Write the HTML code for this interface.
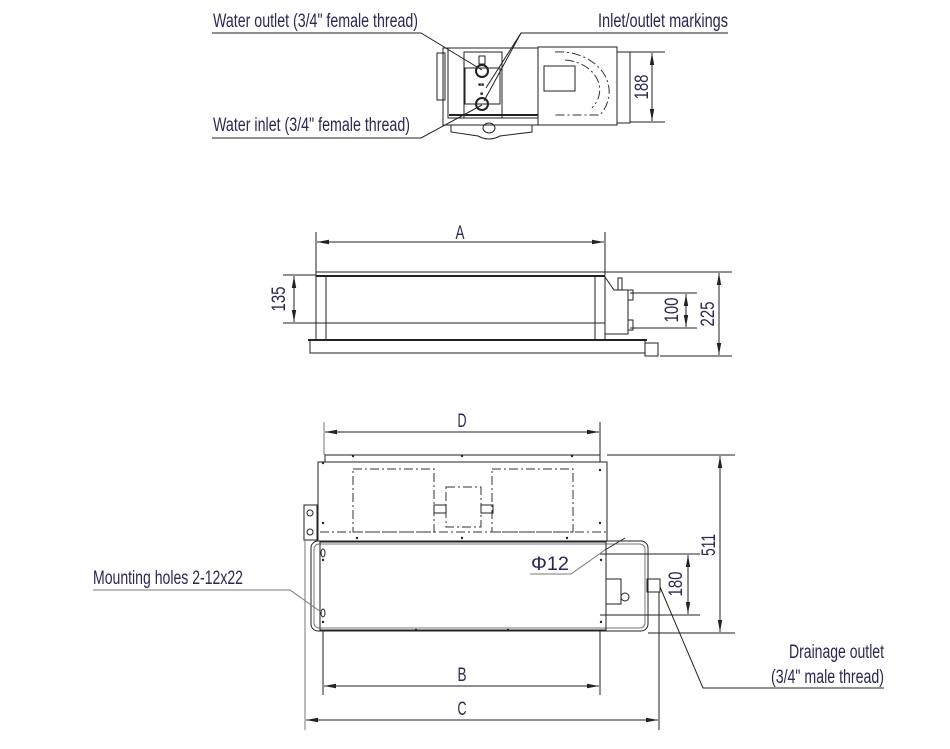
<!DOCTYPE html>
<html><head><meta charset="utf-8"><style>
html,body{margin:0;padding:0;background:#fff;width:950px;height:749px;overflow:hidden}
svg{display:block}
text{font-family:"Liberation Sans Narrow","Liberation Sans",sans-serif;fill:#2a2850;font-size:19px}
.l{stroke:#222;fill:none;stroke-width:1}
.t{stroke:#222;fill:none;stroke-width:2}
.g{stroke:#777;fill:none;stroke-width:1}
.dd{stroke:#333;fill:none;stroke-width:1;stroke-dasharray:9,3,2,3}
</style></head><body>
<svg width="950" height="749" viewBox="0 0 950 749" xmlns="http://www.w3.org/2000/svg">
<defs>
<marker id="a" markerWidth="12" markerHeight="6" refX="12" refY="3" orient="auto-start-reverse" markerUnits="userSpaceOnUse"><path d="M0,0.8 L12,3 L0,5.2z" fill="#222"/></marker>
</defs>

<!-- ===== TOP VIEW ===== -->
<g>
<rect x="443" y="48" width="95" height="77" class="l"/>
<rect x="448" y="48" width="90" height="70" class="l"/>
<rect x="437" y="53" width="8" height="47" class="l"/>
<rect x="464" y="52" width="38" height="66" class="l"/>
<rect x="465" y="68" width="35" height="36" class="l"/>
<circle cx="482" cy="71" r="6" class="t"/>
<circle cx="482" cy="104" r="6" class="t"/>
<rect x="479" y="56" width="6" height="8" class="l"/>
<text x="478" y="86" style="font-size:5px;fill:#222">■■</text>
<text x="480" y="95" style="font-size:5px;fill:#222">■</text>
<line x1="449" y1="115" x2="538" y2="115" class="t"/>
<path d="M451,125 L451,132 L478,136 Q489,142 500,136 L532,132 L532,125" class="l"/>
<ellipse cx="489" cy="128" rx="6" ry="5" class="l"/>
<rect x="538" y="47" width="79" height="78" class="l"/>
<rect x="544" y="66" width="31" height="25" class="l"/>
<path d="M555,52 A50,40 0 0 1 600,115 L555,115" class="dd"/>
<path d="M565,60 A38,30 0 0 1 592,108" class="dd"/>
<rect x="617" y="52" width="13" height="71" class="l"/>
<line x1="630" y1="52" x2="665" y2="52" class="l"/>
<line x1="630" y1="122" x2="665" y2="122" class="l"/>
<line x1="652" y1="53" x2="652" y2="121" class="l" marker-start="url(#a)" marker-end="url(#a)"/>
<text transform="translate(648,87) rotate(-90)" text-anchor="middle" textLength="25" lengthAdjust="spacingAndGlyphs">188</text>
</g>
<!-- top labels -->
<text x="213" y="27" textLength="205" lengthAdjust="spacingAndGlyphs">Water outlet (3/4" female thread)</text>
<polyline points="212,33 421,33 482,70" class="l"/>
<text x="598" y="27" textLength="130" lengthAdjust="spacingAndGlyphs">Inlet/outlet markings</text>
<polyline points="728,33 521,33 486,88" class="l"/>
<line x1="521" y1="33" x2="484" y2="101" class="l"/>
<text x="213" y="131" textLength="197" lengthAdjust="spacingAndGlyphs">Water inlet (3/4" female thread)</text>
<polyline points="212,138 421,138 482,105" class="l"/>

<!-- ===== FRONT VIEW ===== -->
<line x1="316" y1="232" x2="316" y2="275" class="l"/>
<line x1="605" y1="232" x2="605" y2="275" class="l"/>
<line x1="317" y1="242" x2="604" y2="242" class="l" marker-start="url(#a)" marker-end="url(#a)"/>
<text x="460" y="239" text-anchor="middle" textLength="9" lengthAdjust="spacingAndGlyphs">A</text>
<line x1="316" y1="272" x2="605" y2="272" class="l"/>
<line x1="316" y1="276" x2="605" y2="276" class="t"/>
<rect x="316" y="276" width="289" height="47" class="l"/>
<line x1="326" y1="276" x2="326" y2="323" class="l"/>
<line x1="595" y1="276" x2="595" y2="323" class="l"/>
<rect x="316" y="323" width="10" height="17" class="l"/>
<rect x="595" y="323" width="10" height="17" class="l"/>
<line x1="308" y1="340" x2="647" y2="340" class="t"/>
<path d="M310,341 L310,353 L645,353 L645,341" class="l"/>
<rect x="645" y="343" width="13" height="13" class="l"/>
<path d="M605,277 L614,290 L628,290 L628,334 L605,334" class="l"/>
<rect x="628" y="290" width="5" height="10" class="l"/>
<rect x="628" y="320" width="5" height="10" class="l"/>
<rect x="618" y="278" width="4" height="12" class="l"/>
<line x1="283" y1="275" x2="316" y2="275" class="l"/>
<line x1="283" y1="323" x2="316" y2="323" class="l"/>
<line x1="294" y1="276" x2="294" y2="322" class="l" marker-start="url(#a)" marker-end="url(#a)"/>
<text transform="translate(285,299) rotate(-90)" text-anchor="middle" textLength="25" lengthAdjust="spacingAndGlyphs">135</text>
<line x1="630" y1="293" x2="697" y2="293" class="l"/>
<line x1="630" y1="328" x2="697" y2="328" class="l"/>
<line x1="686" y1="294" x2="686" y2="327" class="l" marker-start="url(#a)" marker-end="url(#a)"/>
<text transform="translate(678,310) rotate(-90)" text-anchor="middle" textLength="25" lengthAdjust="spacingAndGlyphs">100</text>
<line x1="605" y1="272" x2="732" y2="272" class="l"/>
<line x1="660" y1="356" x2="732" y2="356" class="l"/>
<line x1="719" y1="273" x2="719" y2="355" class="l" marker-start="url(#a)" marker-end="url(#a)"/>
<text transform="translate(714,314) rotate(-90)" text-anchor="middle" textLength="25" lengthAdjust="spacingAndGlyphs">225</text>

<!-- ===== PLAN VIEW ===== -->
<line x1="324" y1="422" x2="324" y2="455" class="g"/>
<line x1="600" y1="422" x2="600" y2="455" class="l"/>
<line x1="325" y1="432" x2="599" y2="432" class="l" marker-start="url(#a)" marker-end="url(#a)"/>
<text x="462" y="427" text-anchor="middle" textLength="9" lengthAdjust="spacingAndGlyphs">D</text>
<rect x="325" y="455" width="275" height="7" class="l"/>
<rect x="318" y="462" width="289" height="79" class="l"/>
<line x1="320" y1="532" x2="606" y2="532" class="dd"/>
<rect x="353" y="469" width="81" height="63" class="dd"/>
<rect x="492" y="469" width="81" height="63" class="dd"/>
<rect x="446" y="487" width="35" height="40" class="dd"/>
<rect x="434" y="505" width="12" height="8" class="l"/>
<rect x="481" y="505" width="12" height="8" class="l"/>
<rect x="304" y="505" width="13" height="35" class="l"/>
<circle cx="310" cy="513" r="3" class="l"/>
<circle cx="310" cy="532" r="3" class="l"/>
<rect x="311" y="541" width="337" height="90" rx="7" class="l"/>
<rect x="314" y="544" width="331" height="84" rx="5" class="g"/>
<rect x="320" y="542" width="286" height="88" class="l"/>
<rect x="606" y="579" width="15" height="25" class="l"/>
<circle cx="625" cy="597" r="4" class="l"/>
<rect x="647" y="579" width="13" height="13" class="l"/>
<ellipse cx="323" cy="553" rx="2" ry="4" class="l"/>
<ellipse cx="323" cy="613" rx="2" ry="4" class="l"/>
<g fill="#222">
<circle cx="323" cy="463" r="1.2"/><circle cx="353" cy="456" r="1.2"/><circle cx="462" cy="456" r="1.2"/><circle cx="572" cy="456" r="1.2"/>
<circle cx="600" cy="470" r="1.2"/><circle cx="323" cy="523" r="1.2"/><circle cx="600" cy="523" r="1.2"/>
<circle cx="357" cy="538" r="1.2"/><circle cx="462" cy="538" r="1.2"/><circle cx="567" cy="538" r="1.2"/>
<circle cx="323" cy="560" r="1.2"/><circle cx="323" cy="622" r="1.2"/><circle cx="601" cy="560" r="1.2"/><circle cx="601" cy="622" r="1.2"/>
<circle cx="416" cy="630" r="1.2"/><circle cx="508" cy="630" r="1.2"/>
</g>
<line x1="600" y1="554" x2="700" y2="554" class="l"/>
<line x1="600" y1="615" x2="700" y2="615" class="l"/>
<line x1="688" y1="555" x2="688" y2="614" class="l" marker-start="url(#a)" marker-end="url(#a)"/>
<text transform="translate(682,584) rotate(-90)" text-anchor="middle" textLength="25" lengthAdjust="spacingAndGlyphs">180</text>
<line x1="607" y1="455" x2="735" y2="455" class="l"/>
<line x1="648" y1="633" x2="735" y2="633" class="l"/>
<line x1="720" y1="456" x2="720" y2="632" class="l" marker-start="url(#a)" marker-end="url(#a)"/>
<text transform="translate(715,545) rotate(-90)" text-anchor="middle" textLength="22" lengthAdjust="spacingAndGlyphs">511</text>
<text x="531" y="570" textLength="38" lengthAdjust="spacingAndGlyphs">Φ12</text>
<polyline points="530,574 571,574 605,550" class="g"/>
<line x1="605" y1="550" x2="625" y2="538" class="l"/>
<text x="93" y="584" textLength="150" lengthAdjust="spacingAndGlyphs">Mounting holes 2-12x22</text>
<polyline points="93,590 290,590 321,612" class="g"/>
<line x1="323" y1="630" x2="323" y2="695" class="l"/>
<line x1="600" y1="630" x2="600" y2="695" class="l"/>
<line x1="324" y1="686" x2="599" y2="686" class="l" marker-start="url(#a)" marker-end="url(#a)"/>
<text x="462" y="681" text-anchor="middle" textLength="9" lengthAdjust="spacingAndGlyphs">B</text>
<line x1="305" y1="540" x2="305" y2="730" class="g"/>
<line x1="659" y1="592" x2="659" y2="730" class="l"/>
<line x1="306" y1="720" x2="658" y2="720" class="l" marker-start="url(#a)" marker-end="url(#a)"/>
<text x="462" y="715" text-anchor="middle" textLength="9" lengthAdjust="spacingAndGlyphs">C</text>
<text x="789" y="658" textLength="95" lengthAdjust="spacingAndGlyphs">Drainage outlet</text>
<text x="771" y="683" textLength="113" lengthAdjust="spacingAndGlyphs">(3/4" male thread)</text>
<polyline points="660,587 703,688 884,688" class="l"/>
</svg>
</body></html>
